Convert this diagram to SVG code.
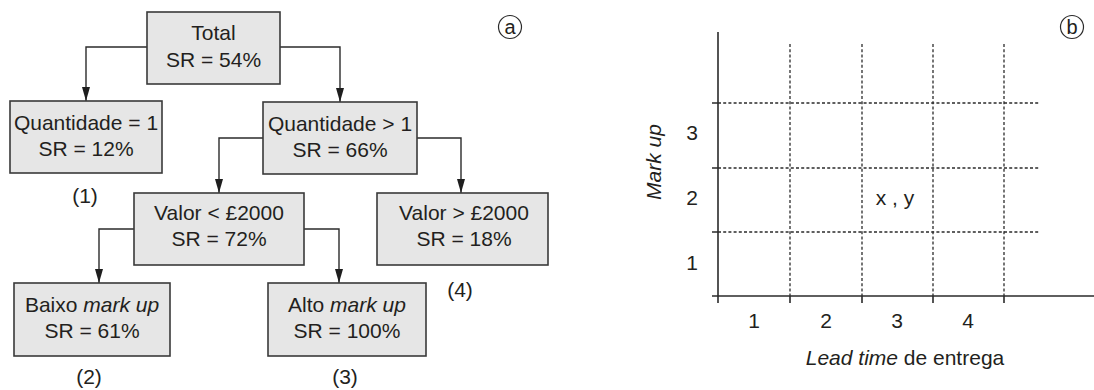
<svg xmlns="http://www.w3.org/2000/svg" width="1094" height="390" viewBox="0 0 1094 390">
  <style>
    text { font-family: "Liberation Sans", Arial, sans-serif; font-size: 21px; fill: #231f20; }
    .c { text-anchor: middle; }
    .it { font-style: italic; }
    .box { fill: #e6e6e6; stroke: #3a3a3a; stroke-width: 1.6; }
    .wire { fill: none; stroke: #2b2b2b; stroke-width: 1.4; }
    .axis { fill: none; stroke: #2b2b2b; stroke-width: 1.6; }
    .grid { fill: none; stroke: #2b2b2b; stroke-width: 1.3; stroke-dasharray: 3 2.2; }
    .tag { fill: none; stroke: #2b2b2b; stroke-width: 1.2; }
    .small { font-size: 20px; }
  </style>
  <defs>
    <!-- filled arrowhead, 14 long and 8 wide, tip on the line end -->
    <marker id="arrow" viewBox="0 0 14 8" refX="14" refY="4" markerWidth="14" markerHeight="8" markerUnits="userSpaceOnUse" orient="auto">
      <path d="M0,0 L14,4 L0,8 Z" fill="#1e1e1e"/>
    </marker>
  </defs>
  <rect width="1094" height="390" fill="#ffffff"/>

  <!-- (a) decision tree -->
  <g id="connectors">
    <path class="wire" d="M147,47 H86 V101" marker-end="url(#arrow)"/>
    <path class="wire" d="M280,47 H340 V102" marker-end="url(#arrow)"/>
    <path class="wire" d="M263,138 H219 V193" marker-end="url(#arrow)"/>
    <path class="wire" d="M417,138 H461 V193" marker-end="url(#arrow)"/>
    <path class="wire" d="M134,229 H99 V283" marker-end="url(#arrow)"/>
    <path class="wire" d="M304,229 H339 V283" marker-end="url(#arrow)"/>
  </g>

  <g id="total">
    <rect class="box" x="147" y="12" width="133" height="72"/>
    <text class="c" x="213.5" y="40">Total</text>
    <text class="c" x="213.5" y="67">SR = 54%</text>
  </g>
  <g id="qty-eq-1">
    <rect class="box" x="10" y="101" width="152" height="72"/>
    <text class="c" x="86" y="130">Quantidade = 1</text>
    <text class="c" x="86" y="156">SR = 12%</text>
    <text class="c" x="85" y="203">(1)</text>
  </g>
  <g id="qty-gt-1">
    <rect class="box" x="263" y="102" width="154" height="72"/>
    <text class="c" x="340" y="131">Quantidade &gt; 1</text>
    <text class="c" x="340" y="157">SR = 66%</text>
  </g>
  <g id="valor-lt">
    <rect class="box" x="134" y="193" width="170" height="72"/>
    <text class="c" x="219" y="220">Valor &lt; £2000</text>
    <text class="c" x="219" y="246">SR = 72%</text>
  </g>
  <g id="valor-gt">
    <rect class="box" x="377" y="193" width="171" height="72"/>
    <text class="c" x="464" y="220">Valor &gt; £2000</text>
    <text class="c" x="464" y="246">SR = 18%</text>
    <text class="c" x="460" y="297">(4)</text>
  </g>
  <g id="baixo">
    <rect class="box" x="14" y="283" width="156" height="73"/>
    <text class="c" x="92" y="312">Baixo <tspan class="it">mark up</tspan></text>
    <text class="c" x="92" y="338">SR = 61%</text>
    <text class="c" x="89" y="384">(2)</text>
  </g>
  <g id="alto">
    <rect class="box" x="268" y="283" width="158" height="73"/>
    <text class="c" x="347" y="312">Alto <tspan class="it">mark up</tspan></text>
    <text class="c" x="347" y="338">SR = 100%</text>
    <text class="c" x="345" y="384">(3)</text>
  </g>
  <g id="tag-a">
    <circle class="tag" cx="510" cy="27" r="11.5"/>
    <text class="c small" x="510" y="34">a</text>
  </g>

  <!-- (b) lead time / mark up grid -->
  <g id="grid-chart">
    <g id="gridlines">
      <path class="grid" d="M790,44 V296 M862,44 V296 M933,44 V296 M1004,44 V296"/>
      <path class="grid" d="M718,103 H1040 M718,168 H1040 M718,232 H1040"/>
    </g>
    <g id="axes">
      <path class="axis" d="M718,32 V303 M712,296 H1094"/>
      <path class="axis" d="M712,103 H718 M712,168 H718 M712,232 H718"/>
      <path class="axis" d="M790,296 V303 M862,296 V303 M933,296 V303 M1004,296 V303"/>
    </g>
    <g id="y-labels">
      <text class="c" x="692" y="140">3</text>
      <text class="c" x="692" y="205">2</text>
      <text class="c" x="692" y="270">1</text>
      <text class="c it" x="661" y="162" transform="rotate(-90 661 162)">Mark up</text>
    </g>
    <g id="x-labels">
      <text class="c" x="754" y="328">1</text>
      <text class="c" x="826" y="328">2</text>
      <text class="c" x="897" y="328">3</text>
      <text class="c" x="968" y="328">4</text>
      <text class="c" x="905" y="365"><tspan class="it">Lead time</tspan> de entrega</text>
    </g>
    <text class="c" x="895" y="205">x , y</text>
  </g>
  <g id="tag-b">
    <circle class="tag" cx="1072" cy="27" r="11.5"/>
    <text class="c small" x="1072" y="34">b</text>
  </g>
</svg>
